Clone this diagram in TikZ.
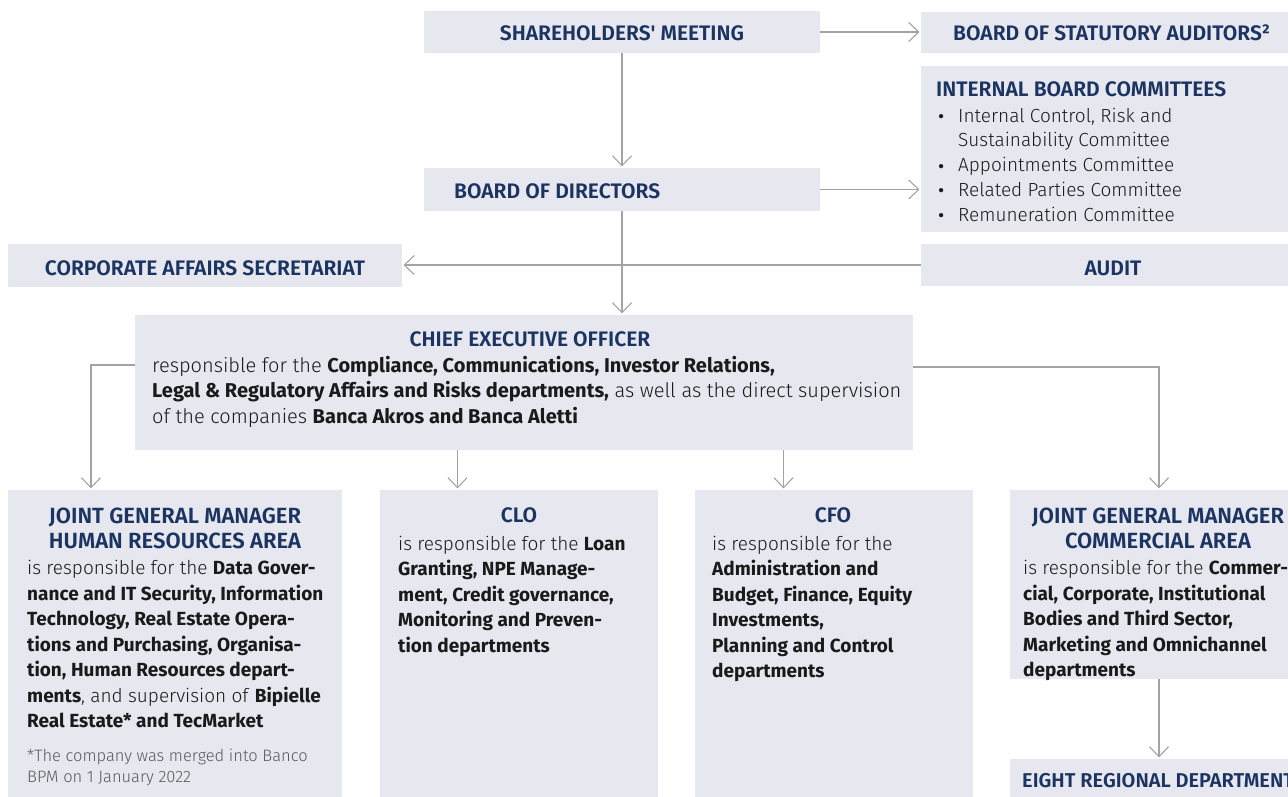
\documentclass[tikz,border=0pt]{standalone}
\usepackage{fontspec}
\setmainfont{Fira Sans Light}[BoldFont={Fira Sans Bold}]
\newfontfamily\hf{Fira Sans SemiBold}
\usetikzlibrary{arrows.meta}
\definecolor{boxfill}{HTML}{E6E7EF}
\definecolor{navy}{HTML}{1B3461}
\definecolor{linegray}{HTML}{A3A3A3}
\definecolor{bodyc}{HTML}{1A1A1A}
\definecolor{notec}{HTML}{5A5A5A}
\newcommand{\bul}{\makebox[21pt][l]{\raisebox{-4.5pt}[0pt][0pt]{\scalebox{1.5}{•}}}}
\tikzset{
 box/.style={fill=boxfill, draw=none, anchor=north west, inner sep=0pt, outer sep=0pt},
 head/.style={font=\hf\fontsize{21}{25}\selectfont, text=navy, inner sep=0pt, align=center},
 head2/.style={head, font=\hf\fontsize{22}{25}\selectfont},
 body/.style={font=\fontsize{19}{25.5}\selectfont, text=bodyc, inner sep=0pt, align=left, anchor=base west},
 note/.style={font=\fontsize{16.5}{21}\selectfont, text=notec, inner sep=0pt, align=left, anchor=base west},
 conn/.style={draw=linegray, line width=1.1pt, -{Straight Barb[length=10pt,width=19pt,line width=1.1pt]}, shorten >=1.5pt}
}
\begin{document}
\begin{tikzpicture}[x=1pt,y=-1pt]
\useasboundingbox (0,0) rectangle (1288,797);
% boxes
\node[box, minimum width=396pt, minimum height=42pt] (SM) at (424,11) {};
\node[box, minimum width=370pt, minimum height=41pt] (BSA) at (921,12) {};
\node[box, minimum width=370pt, minimum height=166pt] (IBC) at (921,66) {};
\node[box, minimum width=396pt, minimum height=43pt] (BoD) at (424,168) {};
\node[box, minimum width=394pt, minimum height=43pt] (CAS) at (8,244) {};
\node[box, minimum width=370pt, minimum height=42pt] (AUD) at (921,244) {};
\node[box, minimum width=778pt, minimum height=135pt] (CEO) at (135,315) {};
\node[box, minimum width=334pt, minimum height=310pt] (HR) at (8,490) {};
\node[box, minimum width=278pt, minimum height=310pt] (CLO) at (380,490) {};
\node[box, minimum width=278pt, minimum height=310pt] (CFO) at (695,490) {};
\node[box, minimum width=300pt, minimum height=189pt] (COM) at (1010,490) {};
\node[box, minimum width=300pt, minimum height=40pt] (EIG) at (1010,759) {};
% texts (base anchor of a multi-line node = its last line)
\node[head, anchor=base] (tSM) at (622,41) {SHAREHOLDERS' MEETING};
\node[head, anchor=base west] (tBSA) at (953,41) {BOARD OF STATUTORY AUDITORS²};
\node[head, anchor=base west] (tBoD) at (454,198) {BOARD OF DIRECTORS};
\node[head, anchor=base west] (tIBC) at (936,97) {INTERNAL BOARD COMMITTEES};
\node[body, font=\fontsize{19}{24.75}\selectfont] (tIBCl) at (937,221) {%
\bul Internal Control, Risk and\\
\hspace*{21pt}Sustainability Committee\\
\bul Appointments Committee\\
\bul Related Parties Committee\\
\bul Remuneration Committee};
\node[head, anchor=base] (tCAS) at (205,275) {CORPORATE AFFAIRS SECRETARIAT};
\node[head, anchor=base] (tAUD) at (1113,275) {AUDIT};
\node[head, anchor=base] (tCEO) at (530,346) {CHIEF EXECUTIVE OFFICER};
\node[body, font=\fontsize{20}{25.5}\selectfont] (bCEO) at (152,423) {%
responsible for the \textbf{Compliance, Communications, Investor Relations,}\\
\textbf{Legal \& Regulatory Affairs and Risks departments,} as well as the direct supervision\\
of the companies \textbf{Banca Akros and Banca Aletti}};
\node[head2, anchor=base] (tHR) at (175,548) {JOINT GENERAL MANAGER\\HUMAN RESOURCES AREA};
\node[body] (bHR) at (27,727.5) {%
is responsible for the \textbf{Data Gover-}\\
\textbf{nance and IT Security, Information}\\
\textbf{Technology, Real Estate Opera-}\\
\textbf{tions and Purchasing, Organisa-}\\
\textbf{tion, Human Resources depart-}\\
\textbf{ments}, and supervision of \textbf{Bipielle}\\
\textbf{Real Estate* and TecMarket}};
\node[note] (nHR) at (27,782) {*The company was merged into Banco\\BPM on 1 January 2022};
\node[head, anchor=base] (tCLO) at (519,522) {CLO};
\node[body] (bCLO) at (398,652) {%
is responsible for the \textbf{Loan}\\
\textbf{Granting, NPE Manage-}\\
\textbf{ment, Credit governance,}\\
\textbf{Monitoring and Preven-}\\
\textbf{tion departments}};
\node[head, anchor=base] (tCFO) at (833,522) {CFO};
\node[body] (bCFO) at (712,677.5) {%
is responsible for the\\
\textbf{Administration and}\\
\textbf{Budget, Finance, Equity}\\
\textbf{Investments,}\\
\textbf{Planning and Control}\\
\textbf{departments}};
\node[head2, anchor=base] (tCOM) at (1158,548) {JOINT GENERAL MANAGER\\COMMERCIAL AREA};
\node[body] (bCOM) at (1023,676.5) {%
is responsible for the \textbf{Commer-}\\
\textbf{cial, Corporate, Institutional}\\
\textbf{Bodies and Third Sector,}\\
\textbf{Marketing and Omnichannel}\\
\textbf{departments}};
\node[head, anchor=base west, font=\hf\fontsize{20}{25}\selectfont] (tEIG) at (1022,787) {EIGHT REGIONAL DEPARTMENTS};
% helper coordinates
\coordinate (yl) at (0,365);
\coordinate (yr) at (0,367);
\coordinate (hrx) at (91,0);
\coordinate (clox) at (457.5,0);
\coordinate (cfox) at (783.5,0);
\coordinate (comx) at (1159,0);
% connectors
\draw[conn] (SM.south) -- (BoD.north);
\draw[conn] (SM.east) -- (SM.east -| BSA.west);
\draw[conn] (BoD.east) -- (BoD.east -| IBC.west);
\draw[conn] (BoD.south) -- (BoD.south |- CEO.north);
\draw[conn] (AUD.west) -- (AUD.west -| CAS.east);
\draw[conn] (CEO.west |- yl) -| (HR.north -| hrx);
\draw[conn] (CEO.south -| clox) -- (CLO.north -| clox);
\draw[conn] (CEO.south -| cfox) -- (CFO.north -| cfox);
\draw[conn] (CEO.east |- yr) -| (COM.north -| comx);
\draw[conn] (COM.south -| comx) -- (EIG.north -| comx);
\end{tikzpicture}
\end{document}
